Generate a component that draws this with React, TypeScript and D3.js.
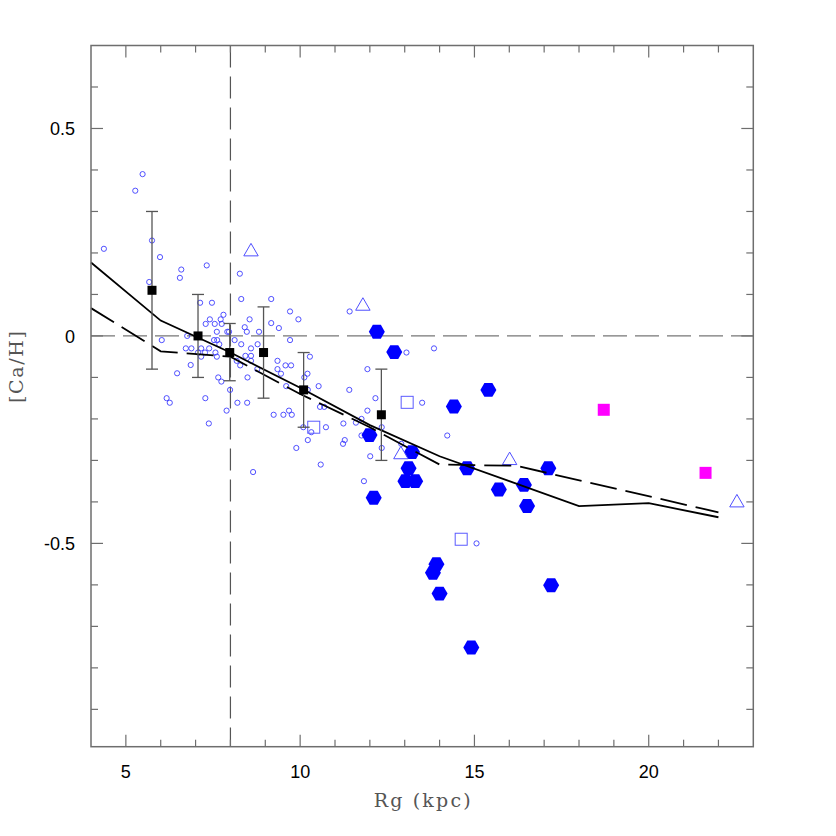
import React, { useEffect, useRef } from "react";
import * as d3 from "d3";

// small open circles: [Rg, [Ca/H]]
const cepheids: [number, number][] = [
  [5.48, 0.39], [5.27, 0.35], [4.37, 0.21], [5.75, 0.23], [5.98, 0.19], [6.59, 0.16], [6.55, 0.14],
  [7.32, 0.17], [5.67, 0.13], [7.13, 0.08], [7.47, 0.08], [7.8, 0.051], [7.41, 0.04], [7.72, 0.04],
  [8.27, 0.15], [8.31, 0.089], [9.17, 0.089], [9.71, 0.059], [9.95, 0.04], [11.42, 0.059], [8.55, 0.04],
  [7.29, 0.029], [7.55, 0.029], [7.75, 0.029], [6.76, 0.0], [7.61, 0.01], [7.91, 0.01], [6.03, -0.01],
  [7.53, -0.01], [7.62, -0.01], [7.68, -0.02], [6.72, -0.03], [6.88, -0.03], [7.16, -0.03], [7.39, -0.03],
  [7.07, -0.04], [7.27, -0.04], [7.57, -0.04], [7.16, -0.05], [7.61, -0.05], [6.86, -0.07], [6.47, -0.09],
  [7.65, -0.1], [7.74, -0.11], [7.99, -0.13], [6.17, -0.15], [6.26, -0.161], [7.28, -0.15], [7.89, -0.18],
  [7.38, -0.211],
  [8.41, 0.021], [8.47, 0.01], [7.96, 0.01], [9.17, 0.031], [9.39, 0.019], [8.82, 0.01], [8.12, -0.01],
  [9.71, -0.01], [8.31, -0.02], [8.78, -0.02], [8.59, -0.03], [10.28, -0.05], [8.43, -0.048], [8.59, -0.048],
  [8.18, -0.06], [8.59, -0.06], [9.35, -0.06], [8.28, -0.071], [9.58, -0.071], [9.74, -0.071], [9.35, -0.08],
  [9.45, -0.091], [10.21, -0.091], [10.12, -0.1], [8.49, -0.1], [8.77, -0.08], [10.53, -0.121], [9.6, -0.121],
  [10.22, -0.13], [8.2, -0.161], [8.48, -0.161], [10.57, -0.171], [10.69, -0.171], [9.24, -0.19], [9.52, -0.19],
  [9.68, -0.18], [9.76, -0.19], [11.41, -0.13], [10.09, -0.22], [10.32, -0.232], [10.74, -0.22], [11.24, -0.211],
  [11.28, -0.251], [11.23, -0.26], [10.22, -0.251], [9.89, -0.27], [10.59, -0.31], [8.65, -0.328],
  [13.05, -0.04], [13.84, -0.03], [11.93, -0.08], [12.16, -0.15], [13.5, -0.161], [11.93, -0.18], [11.76, -0.2],
  [11.6, -0.209], [12.34, -0.22], [11.76, -0.24], [14.22, -0.24], [12.9, -0.26], [12.34, -0.27], [12.01, -0.29],
  [11.83, -0.35], [15.06, -0.5],
];

// filled hexagons
const outerDisk: [number, number][] = [
  [12.2, 0.01], [12.7, -0.039], [11.99, -0.239], [13.21, -0.28], [13.11, -0.319], [13.02, -0.35], [13.3, -0.35],
  [12.11, -0.39], [14.41, -0.17], [15.4, -0.13], [14.79, -0.319], [15.7, -0.37], [16.42, -0.359], [16.51, -0.41],
  [17.12, -0.319], [13.91, -0.55], [13.81, -0.571], [14.0, -0.621], [17.2, -0.601], [14.91, -0.751],
];

const openSquares: [number, number][] = [[13.07, -0.16], [10.39, -0.22], [14.62, -0.49]];
const openTriangles: [number, number][] = [[8.59, 0.203], [11.8, 0.072], [12.89, -0.286], [16.01, -0.3], [22.53, -0.402]];
const magentaSquares: [number, number][] = [[18.71, -0.178], [21.63, -0.33]];

// binned means with error bars: [Rg, mean, upper, lower]
const binnedMeans: [number, number, number, number][] = [
  [5.75, 0.11, 0.3, -0.08],
  [7.07, 0.0, 0.1, -0.1],
  [7.98, -0.04, 0.03, -0.108],
  [8.95, -0.04, 0.07, -0.15],
  [10.1, -0.13, -0.04, -0.22],
  [12.33, -0.19, -0.08, -0.3],
];

const modelSolid: [number, number][] = [
  [4, 0.177], [6, 0.037], [8, -0.04], [10, -0.125], [12, -0.215], [14, -0.29], [16, -0.35], [18, -0.41], [20, -0.403], [22, -0.437],
];
const modelDashed: [number, number][] = [
  [4, 0.067], [6, -0.037], [8, -0.05], [10, -0.14], [12, -0.22], [14, -0.31], [16.2, -0.313], [22, -0.425],
];

const xTicksMajor = [5, 10, 15, 20];
const yTicksMajor = [0.5, 0, -0.5];
const yTickLabels = ["0.5", "0", "-0.5"];

const W = 836, H = 836;
const left = 91, right = 753.3, top = 45.5, bottom = 746.7;

const hexagon = {
  draw(ctx: any, size: number) {
    const r = Math.sqrt(size / 2.598);
    for (let i = 0; i < 6; i++) {
      const a = (Math.PI / 3) * i;
      const px = r * Math.cos(a), py = r * Math.sin(a);
      if (i === 0) ctx.moveTo(px, py);
      else ctx.lineTo(px, py);
    }
    ctx.closePath();
  },
};

export default function App() {
  const ref = useRef<SVGSVGElement>(null);

  useEffect(() => {
    const svg = d3.select(ref.current);
    svg.selectAll("*").remove();

    const x = d3.scaleLinear().domain([4, 23]).range([left, right]);
    const y = d3.scaleLinear().domain([-0.99, 0.7]).range([bottom, top]);
    const axisColor = "#6e6e6e";

    // reference lines
    svg.append("line")
      .attr("x1", x(8)).attr("x2", x(8)).attr("y1", top).attr("y2", bottom)
      .attr("stroke", "#555").attr("stroke-width", 1.2).attr("stroke-dasharray", "22,9");
    svg.append("line")
      .attr("x1", left).attr("x2", right).attr("y1", y(0)).attr("y2", y(0))
      .attr("stroke", "#777").attr("stroke-width", 1.2).attr("stroke-dasharray", "24,8");

    // small open circles
    svg.append("g").selectAll("circle").data(cepheids).enter().append("circle")
      .attr("cx", (d) => x(d[0])).attr("cy", (d) => y(d[1])).attr("r", 2.6)
      .attr("fill", "none").attr("stroke", "#3d3dff").attr("stroke-width", 0.9);

    // hexagons
    const hex = d3.symbol().type(hexagon as any).size(2.598 * 64);
    svg.append("g").selectAll("path").data(outerDisk).enter().append("path")
      .attr("d", hex)
      .attr("transform", (d) => `translate(${x(d[0])},${y(d[1])})`)
      .attr("fill", "#0000ff");

    svg.append("g").selectAll("rect").data(openSquares).enter().append("rect")
      .attr("x", (d) => x(d[0]) - 6).attr("y", (d) => y(d[1]) - 6)
      .attr("width", 12).attr("height", 12)
      .attr("fill", "none").attr("stroke", "#5b5bff").attr("stroke-width", 1);

    const tri = d3.symbol().type(d3.symbolTriangle).size(90);
    svg.append("g").selectAll("path").data(openTriangles).enter().append("path")
      .attr("d", tri)
      .attr("transform", (d) => `translate(${x(d[0])},${y(d[1])})`)
      .attr("fill", "none").attr("stroke", "#4f4fff").attr("stroke-width", 1);

    svg.append("g").selectAll("rect").data(magentaSquares).enter().append("rect")
      .attr("x", (d) => x(d[0]) - 6).attr("y", (d) => y(d[1]) - 6)
      .attr("width", 12).attr("height", 12).attr("fill", "#ff00ff");

    // model curves
    const line = d3.line<[number, number]>().x((d) => x(d[0])).y((d) => y(d[1]));
    svg.append("path").datum(modelSolid).attr("d", line)
      .attr("fill", "none").attr("stroke", "#000").attr("stroke-width", 1.8);
    svg.append("path").datum(modelDashed).attr("d", line)
      .attr("fill", "none").attr("stroke", "#000").attr("stroke-width", 1.8)
      .attr("stroke-dasharray", "27,9");

    // error bars and means
    const eb = svg.append("g").attr("stroke", "#555").attr("stroke-width", 1.3);
    binnedMeans.forEach((d) => {
      eb.append("line").attr("x1", x(d[0])).attr("x2", x(d[0])).attr("y1", y(d[2])).attr("y2", y(d[3]));
      eb.append("line").attr("x1", x(d[0]) - 6).attr("x2", x(d[0]) + 6).attr("y1", y(d[2])).attr("y2", y(d[2]));
      eb.append("line").attr("x1", x(d[0]) - 6).attr("x2", x(d[0]) + 6).attr("y1", y(d[3])).attr("y2", y(d[3]));
    });
    svg.append("g").selectAll("rect").data(binnedMeans).enter().append("rect")
      .attr("x", (d) => x(d[0]) - 4.5).attr("y", (d) => y(d[1]) - 4.5)
      .attr("width", 9).attr("height", 9).attr("fill", "#000");

    // frame and ticks on all sides
    svg.append("rect")
      .attr("x", left).attr("y", top).attr("width", right - left).attr("height", bottom - top)
      .attr("fill", "none").attr("stroke", axisColor).attr("stroke-width", 1.5);

    const ticks = svg.append("g").attr("stroke", axisColor).attr("stroke-width", 1.2);
    d3.range(5, 23).forEach((v) => {
      const len = v % 5 === 0 ? 12 : 7;
      ticks.append("line").attr("x1", x(v)).attr("x2", x(v)).attr("y1", bottom).attr("y2", bottom - len);
      ticks.append("line").attr("x1", x(v)).attr("x2", x(v)).attr("y1", top).attr("y2", top + len);
    });
    d3.range(-9, 7).forEach((k) => {
      const v = k / 10;
      const len = k % 5 === 0 ? 12 : 7;
      ticks.append("line").attr("x1", left).attr("x2", left + len).attr("y1", y(v)).attr("y2", y(v));
      ticks.append("line").attr("x1", right).attr("x2", right - len).attr("y1", y(v)).attr("y2", y(v));
    });

    const labels = svg.append("g").attr("font-family", "'Liberation Sans', Arial, sans-serif").attr("font-size", 18).attr("fill", "#000");
    xTicksMajor.forEach((v) => {
      labels.append("text").attr("x", x(v)).attr("y", bottom + 31).attr("text-anchor", "middle").text(String(v));
    });
    yTicksMajor.forEach((v, i) => {
      labels.append("text").attr("x", 75).attr("y", y(v) + 7).attr("text-anchor", "end").text(yTickLabels[i]);
    });

    svg.append("text")
      .attr("x", (left + right) / 2).attr("y", 807).attr("text-anchor", "middle")
      .attr("font-family", "'DejaVu Serif', 'Liberation Serif', serif").attr("font-size", 19)
      .attr("fill", "#555").attr("textLength", 97).attr("lengthAdjust", "spacing")
      .text("Rg (kpc)");
    svg.append("text")
      .attr("transform", `translate(23,367) rotate(-90)`)
      .attr("text-anchor", "middle")
      .attr("font-family", "'DejaVu Serif', 'Liberation Serif', serif").attr("font-size", 19)
      .attr("fill", "#555").attr("textLength", 72).attr("lengthAdjust", "spacing")
      .text("[Ca/H]");
  }, []);

  return (
    <>
      <style>{`body{margin:0}`}</style>
      <svg ref={ref} width={W} height={H} style={{ display: "block", background: "#fff" }} />
    </>
  );
}
